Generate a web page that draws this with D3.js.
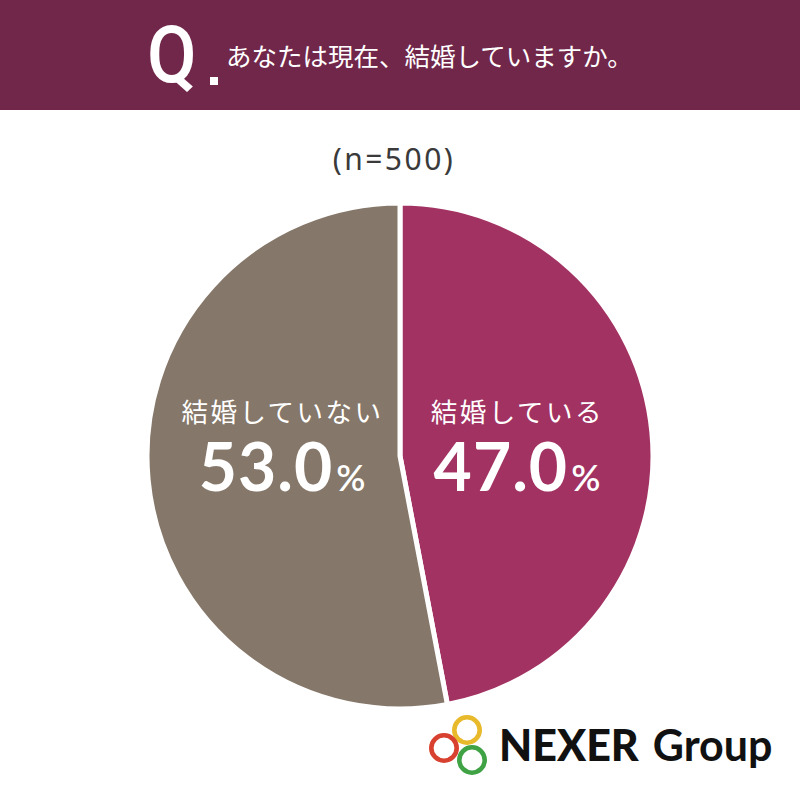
<!DOCTYPE html>
<html><head><meta charset="utf-8">
<script src="https://cdn.jsdelivr.net/npm/d3@7"></script>
<style>html,body{margin:0;padding:0;background:#fff;}svg{display:block;}</style>
</head><body>
<svg id="c" width="800" height="795"></svg>
<script>
const question = "あなたは現在、結婚していますか。";
const sampleLabel = "(n=500)";
const categories = ["結婚している", "結婚していない"];
const values = [47.0, 53.0];
const colors = ["#a23262", "#857769"];

const svg = d3.select("#c");
const W = 800;
const JP = "'Noto Sans CJK JP','Noto Sans',sans-serif";

// header band
svg.append("rect").attr("x",0).attr("y",0).attr("width",W).attr("height",110).attr("fill","#71274a");
svg.append("text").attr("x",147).attr("y",82).attr("fill","#fff")
  .attr("font-family","Roboto, 'Noto Sans', sans-serif").attr("font-weight",500)
  .attr("font-size",80).attr("transform","translate(147,0) scale(0.9,1) translate(-147,0)").text("Q");
svg.append("rect").attr("x",210).attr("y",77).attr("width",8).attr("height",8).attr("fill","#fff");
svg.append("text").attr("x",226).attr("y",66).attr("fill","#fff")
  .attr("font-family",JP).attr("font-size",25.5).attr("font-weight",400).text(question);

// sample size
svg.append("text").attr("x",394).attr("y",170).attr("text-anchor","middle").attr("fill","#3a3a3a")
  .attr("font-family","'Noto Sans', sans-serif").attr("font-size",30).attr("letter-spacing",2.5).text(sampleLabel);

// pie
const cx = 400, cy = 456, R = 253;
const pie = d3.pie().sort(null).value(d => d)(values);
const arc = d3.arc().innerRadius(0).outerRadius(R);
const labelArc = d3.arc().innerRadius(118).outerRadius(118);
const g = svg.append("g").attr("transform",`translate(${cx},${cy})`);
g.selectAll("path").data(pie).join("path")
  .attr("d",arc).attr("fill",(d,i)=>colors[i]).attr("stroke","#fff").attr("stroke-width",5).attr("stroke-linejoin","miter");

// labels
const labels = g.selectAll("g.lab").data(pie).join("g").attr("class","lab")
  .attr("transform",(d,i)=>{ const c = labelArc.centroid(d); return `translate(${c[0]},0)`; });
labels.append("text").attr("y",-34).attr("text-anchor","middle").attr("fill","#fff")
  .attr("font-family",JP).attr("font-size",26.5).attr("letter-spacing",2.5)
  .text((d,i)=>categories[i]);
const num = labels.append("text").attr("y",35).attr("text-anchor","middle").attr("fill","#fff")
  .attr("font-family","Lato, 'Noto Sans', sans-serif").attr("font-weight",700).attr("letter-spacing",1);
num.append("tspan").attr("font-size",66).text(d=>d.data.toFixed(1));
num.append("tspan").attr("font-size",36).attr("font-weight",600).attr("dx",3).text("%");

// logo
const ringData = [
  {c:"#e8b92a", x:467, y:730},
  {c:"#d8402f", x:444, y:748},
  {c:"#3fa244", x:472, y:760}
];
svg.selectAll("circle.ring").data(ringData).join("circle").attr("class","ring")
  .attr("cx",d=>d.x).attr("cy",d=>d.y).attr("r",12.7).attr("fill","none")
  .attr("stroke",d=>d.c).attr("stroke-width",4.6);
const logo = svg.append("text").attr("x",499).attr("y",761).attr("fill","#111")
  .attr("font-family","Lato, 'Noto Sans', sans-serif").attr("font-size",43);
logo.append("tspan").attr("font-weight",900).text("NEXER");
logo.append("tspan").attr("font-weight",700).attr("dx",14).text("Group");
</script>
</body></html>
